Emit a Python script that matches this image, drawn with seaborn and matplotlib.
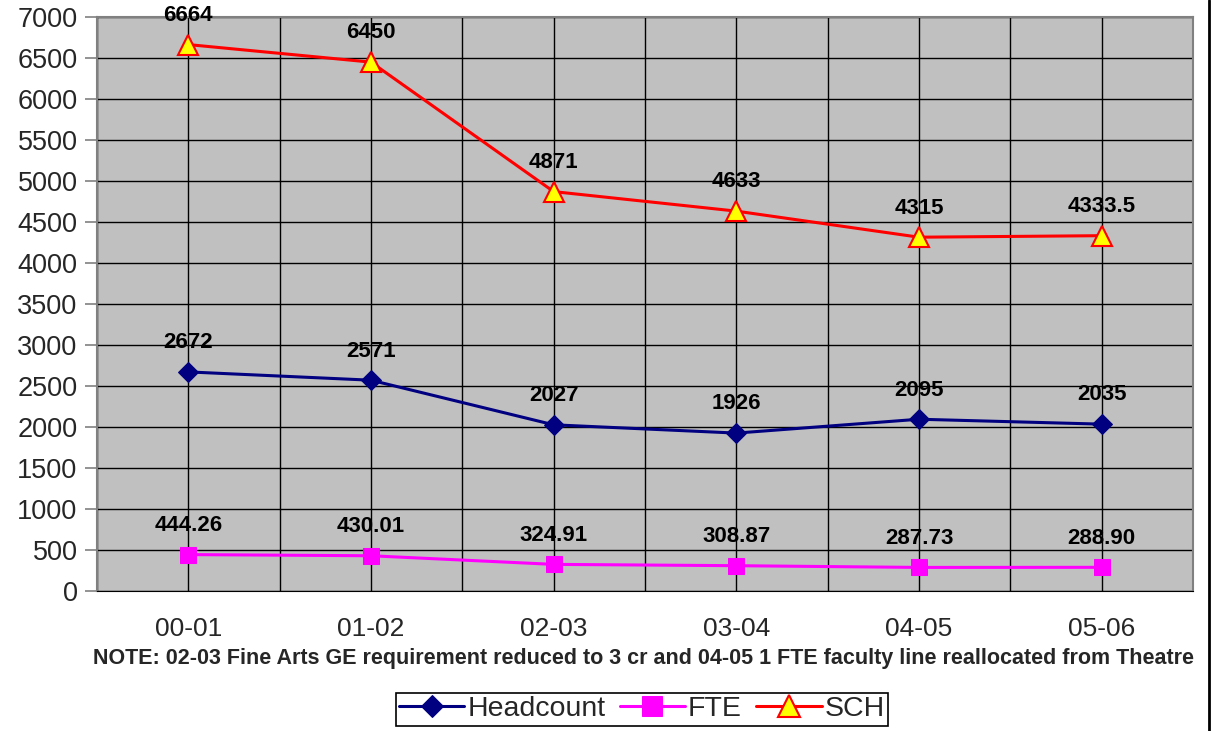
"""Headcount, FTE and SCH by academic year."""
import pandas as pd
import matplotlib.pyplot as plt
import seaborn as sns
from matplotlib.lines import Line2D
from matplotlib.ticker import FixedLocator

years = ["00-01", "01-02", "02-03", "03-04", "04-05", "05-06"]
headcount = [2672, 2571, 2027, 1926, 2095, 2035]
fte = [444.26, 430.01, 324.91, 308.87, 287.73, 288.90]
sch = [6664, 6450, 4871, 4633, 4315, 4333.5]

headcount_labels = ["2672", "2571", "2027", "1926", "2095", "2035"]
fte_labels = ["444.26", "430.01", "324.91", "308.87", "287.73", "288.90"]
sch_labels = ["6664", "6450", "4871", "4633", "4315", "4333.5"]

note = ("NOTE: 02-03 Fine Arts GE requirement reduced to 3 cr and "
        "04-05 1 FTE faculty line reallocated from Theatre")

sns.set_style("white")
plt.rcParams["font.family"] = ["Liberation Sans", "DejaVu Sans"]

df = pd.DataFrame({"pos": range(len(years)), "year": years,
                   "Headcount": headcount, "FTE": fte, "SCH": sch})

fig = plt.figure(figsize=(12.11, 7.31), dpi=100)
ax = fig.add_axes([0.0801, 0.1915, 0.905, 0.7852])
ax.set_facecolor("#C0C0C0")

sns.lineplot(data=df, x="pos", y="Headcount", ax=ax, color="#000080",
             lw=2.2, marker="D", markersize=10, markeredgecolor="#000080",
             label="Headcount")
sns.lineplot(data=df, x="pos", y="FTE", ax=ax, color="#FF00FF",
             lw=2.2, marker="s", markersize=12, markeredgecolor="#FF00FF",
             label="FTE")
sns.lineplot(data=df, x="pos", y="SCH", ax=ax, color="#FF0000",
             lw=2.2, marker="^", markersize=14, markerfacecolor="#FFFF00",
             markeredgecolor="#FF0000", markeredgewidth=1.5, label="SCH")

for vals, labs in [(headcount, headcount_labels), (fte, fte_labels),
                   (sch, sch_labels)]:
    for i, (v, t) in enumerate(zip(vals, labs)):
        ax.annotate(t, (i, v), xytext=(0, 21), textcoords="offset points",
                    ha="center", va="center", fontsize=16,
                    fontweight="bold", color="black")

ax.set_xlim(-0.5, len(years) - 0.5)
ax.set_ylim(0, 7000)
ax.set_yticks(range(0, 7001, 500))
ax.set_xticks(range(len(years)))
ax.set_xticklabels(years)
ax.xaxis.set_minor_locator(FixedLocator([i - 0.5 for i in range(len(years) + 1)]))
ax.grid(True, which="both", color="black", lw=1)
ax.set_axisbelow(True)
ax.tick_params(axis="x", which="major", length=0, pad=19, labelsize=19)
ax.tick_params(axis="x", which="minor", length=8, color="black", width=1)
ax.tick_params(axis="y", length=9, color="#808080", width=1.2, pad=5,
               labelsize=19.5, left=True)
ax.set_xlabel("")
ax.set_ylabel("")
for side in ["top", "right", "left"]:
    ax.spines[side].set_color("#808080")
    ax.spines[side].set_linewidth(1.5)
ax.spines["bottom"].set_color("black")

fig.text(0.531, 0.0985, note, ha="center", va="center", fontsize=15.5,
         fontweight="bold")

leg = ax.legend(loc="upper center", bbox_to_anchor=(0.530, 0.052),
                bbox_transform=fig.transFigure, ncol=3, frameon=True,
                fancybox=False, framealpha=1, edgecolor="black",
                fontsize=20.5, handlelength=2.3, handletextpad=0.1,
                columnspacing=0.5, borderpad=0.12, borderaxespad=0,
                markerscale=1.15)
leg.get_frame().set_linewidth(1.2)

fig.add_artist(Line2D([1209 / 1211, 1209 / 1211], [0, 1],
                      transform=fig.transFigure, color="black", lw=2))

plt.savefig("out.png", dpi=100)
